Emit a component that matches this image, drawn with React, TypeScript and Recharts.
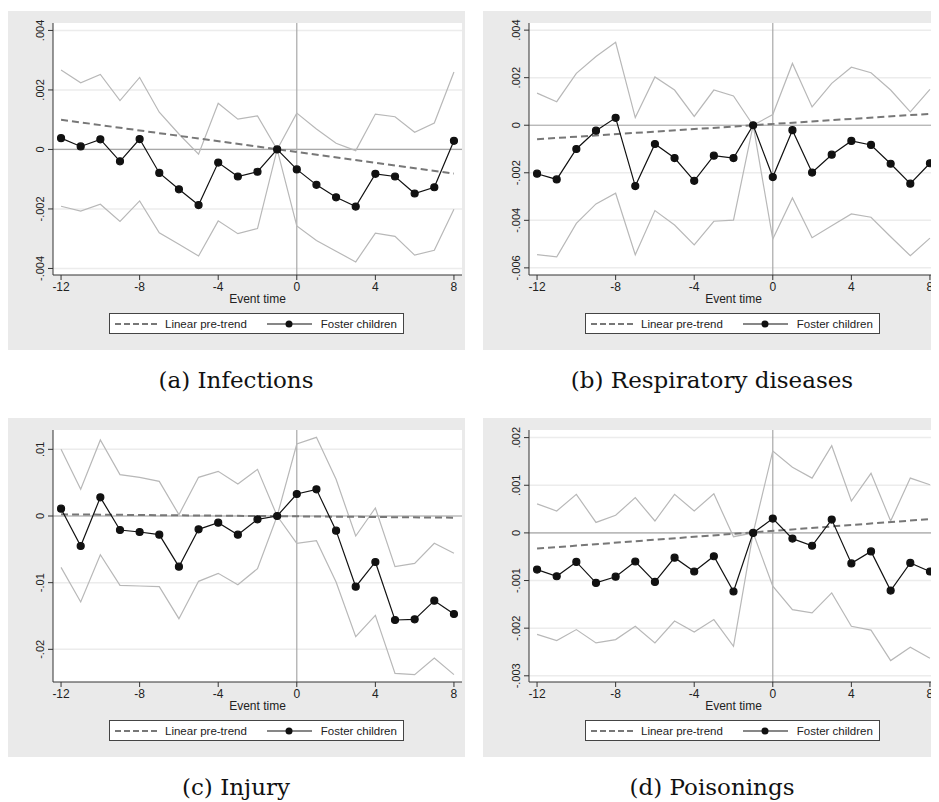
import React from "react";
import { ComposedChart, Line, XAxis, YAxis, CartesianGrid, ReferenceLine } from "recharts";

const eventTimes = [-12, -11, -10, -9, -8, -7, -6, -5, -4, -3, -2, -1, 0, 1, 2, 3, 4, 5, 6, 7, 8];
const xTicks = [-12, -8, -4, 0, 4, 8];

// (a) Infections
const infPoint = [0.00038, 0.0001, 0.00034, -0.0004, 0.00035, -0.00079, -0.00134, -0.00187, -0.00044, -0.00091, -0.00075, 0, -0.00067, -0.00119, -0.00161, -0.00192, -0.00082, -0.00091, -0.00148, -0.00127, 0.00029];
const infUpper = [0.00267, 0.00224, 0.00252, 0.00164, 0.00242, 0.00125, 0.00052, -0.00016, 0.00155, 0.00102, 0.00113, 0, 0.00122, 0.00069, 0.00021, -0.00004, 0.00119, 0.0011, 0.00058, 0.00089, 0.0026];
const infLower = [-0.00191, -0.00207, -0.00184, -0.00242, -0.00173, -0.0028, -0.00319, -0.00358, -0.0024, -0.00283, -0.00266, 0, -0.00257, -0.00306, -0.00342, -0.00378, -0.00281, -0.00292, -0.00355, -0.00339, -0.00201];
const infTrend = [0.001, -0.00081];

// (b) Respiratory diseases
const respPoint = [-0.00204, -0.00228, -0.001, -0.00023, 0.00031, -0.00256, -0.00079, -0.00138, -0.00234, -0.00128, -0.00138, 0, -0.00218, -0.00021, -0.00199, -0.00124, -0.00066, -0.00083, -0.00162, -0.00246, -0.0016];
const respUpper = [0.00135, 0.00099, 0.00218, 0.00289, 0.00349, 0.00032, 0.00203, 0.00148, 0.00037, 0.00148, 0.00123, 0, 0.00045, 0.0026, 0.00077, 0.00176, 0.00244, 0.00221, 0.00148, 0.00056, 0.00151];
const respLower = [-0.00544, -0.00554, -0.00413, -0.00331, -0.00286, -0.00545, -0.00359, -0.0042, -0.00503, -0.00404, -0.00399, 0, -0.00479, -0.00306, -0.00473, -0.00423, -0.00373, -0.00387, -0.00469, -0.00549, -0.00475];
const respTrend = [-0.00059, 0.00048];

// (c) Injury
const injPoint = [0.0011, -0.0045, 0.0028, -0.0021, -0.0024, -0.0028, -0.0076, -0.002, -0.001, -0.0028, -0.0005, 0, 0.0033, 0.004, -0.0022, -0.0106, -0.0069, -0.0156, -0.0155, -0.0127, -0.0147];
const injUpper = [0.01, 0.004, 0.0114, 0.0062, 0.0058, 0.0052, 0.0002, 0.0058, 0.0067, 0.0048, 0.007, 0, 0.0108, 0.0118, 0.0055, -0.003, 0.0012, -0.0076, -0.0071, -0.0041, -0.0056];
const injLower = [-0.0077, -0.0129, -0.0058, -0.0104, -0.0105, -0.0106, -0.0154, -0.0098, -0.0086, -0.0103, -0.0079, 0, -0.0041, -0.0037, -0.0099, -0.0181, -0.0149, -0.0236, -0.0238, -0.0213, -0.0238];
const injTrend = [0.00025, -0.00025];

// (d) Poisonings
const poiPoint = [-0.00077, -0.00091, -0.00061, -0.00105, -0.00092, -0.0006, -0.00103, -0.00052, -0.00081, -0.00049, -0.00123, 0, 0.0003, -0.00012, -0.00027, 0.00028, -0.00064, -0.00039, -0.00121, -0.00063, -0.00081];
const poiUpper = [0.00061, 0.00046, 0.00081, 0.00022, 0.00037, 0.00074, 0.00025, 0.00081, 0.00046, 0.00082, -0.00008, 0, 0.00172, 0.00138, 0.00115, 0.00183, 0.00067, 0.00125, 0.00025, 0.00115, 0.00101];
const poiLower = [-0.00213, -0.00226, -0.00203, -0.00231, -0.00224, -0.00196, -0.00231, -0.00185, -0.00208, -0.00182, -0.00238, 0, -0.00112, -0.00161, -0.00168, -0.00126, -0.00196, -0.00204, -0.00268, -0.0024, -0.00263];
const poiTrend = [-0.00033, 0.00029];

type PanelDef = {
  caption: string;
  point: number[];
  upper: number[];
  lower: number[];
  trend: number[];
  domain: [number, number];
  ticks: number[];
  left: number;
  top: number;
};

const fmt = (v: number) => {
  if (v === 0) return "0";
  const s = String(Number(v.toPrecision(3)));
  return s.replace(/^(-?)0\./, "$1.");
};

const panels: PanelDef[] = [
  { caption: "(a) Infections", point: infPoint, upper: infUpper, lower: infLower, trend: infTrend, domain: [-0.00422, 0.00425], ticks: [-0.004, -0.002, 0, 0.002, 0.004], left: 7, top: 11 },
  { caption: "(b) Respiratory diseases", point: respPoint, upper: respUpper, lower: respLower, trend: respTrend, domain: [-0.0063, 0.0043], ticks: [-0.006, -0.004, -0.002, 0, 0.002, 0.004], left: 483, top: 11 },
  { caption: "(c) Injury", point: injPoint, upper: injUpper, lower: injLower, trend: injTrend, domain: [-0.0249, 0.0129], ticks: [-0.02, -0.01, 0, 0.01], left: 7, top: 418 },
  { caption: "(d) Poisonings", point: poiPoint, upper: poiUpper, lower: poiLower, trend: poiTrend, domain: [-0.00313, 0.00216], ticks: [-0.003, -0.002, -0.001, 0, 0.001, 0.002], left: 483, top: 418 },
];

const font = "Arial, 'Liberation Sans', sans-serif";

const YTick = (props: any) => {
  const { x, y, payload } = props;
  return (
    <text x={x - 2} y={y} transform={`rotate(-90 ${x - 2} ${y})`} textAnchor="middle" fontSize={11} fontFamily={font} fill="#222">
      {fmt(payload.value)}
    </text>
  );
};

function Panel({ p }: { p: PanelDef }) {
  const slope = (p.trend[1] - p.trend[0]) / 20;
  const rows = eventTimes.map((t, i) => ({
    t,
    point: p.point[i],
    upper: p.upper[i],
    lower: p.lower[i],
    trend: i === 0 || i === eventTimes.length - 1 ? p.trend[0] + slope * (t + 12) : undefined,
  }));
  return (
    <div style={{ position: "absolute", left: p.left, top: p.top, width: 458, height: 339, background: "#eaeaea" }}>
      <ComposedChart width={458} height={290} data={rows} margin={{ top: 12, right: 3, bottom: 0, left: 0 }}>
        <CartesianGrid vertical={false} horizontalValues={p.ticks} stroke="#ececec" strokeWidth={1.5} fill="#ffffff" />
        <XAxis dataKey="t" type="number" domain={[-12.41, 8.41]} ticks={xTicks} interval={0} stroke="#333" tickSize={5}
          tick={{ fontSize: 12, fontFamily: font, fill: "#222" }} height={26} />
        <YAxis type="number" domain={p.domain} ticks={p.ticks} interval={0} width={46} stroke="#333" tickSize={5} tick={<YTick />} allowDataOverflow />
        <ReferenceLine y={0} stroke="#a8a8a8" strokeWidth={1.2} />
        <ReferenceLine x={0} stroke="#a8a8a8" strokeWidth={1.2} />
        <Line dataKey="upper" stroke="#b8b8b8" strokeWidth={1.2} dot={false} isAnimationActive={false} />
        <Line dataKey="lower" stroke="#b8b8b8" strokeWidth={1.2} dot={false} isAnimationActive={false} />
        <Line dataKey="trend" stroke="#777" strokeWidth={2} strokeDasharray="7 4" dot={false} connectNulls isAnimationActive={false} />
        <Line dataKey="point" stroke="#111" strokeWidth={1.2} dot={{ r: 3.5, fill: "#111", stroke: "#111" }} isAnimationActive={false} />
      </ComposedChart>
      <div style={{ position: "absolute", left: 46, width: 409, top: 281, textAlign: "center", fontFamily: font, fontSize: 12, lineHeight: "14px", color: "#222" }}>Event time</div>
      <div style={{ position: "absolute", left: 102, top: 302, width: 295, height: 21, boxSizing: "border-box", border: "1px solid #444", background: "#fff", display: "flex", alignItems: "center", fontFamily: font, fontSize: 11.5, color: "#222" }}>
        <svg width={50} height={10} style={{ marginLeft: 5 }}><line x1={0} y1={5} x2={45} y2={5} stroke="#777" strokeWidth={2} strokeDasharray="6 3" /></svg>
        <span>Linear pre-trend</span>
        <svg width={50} height={10} style={{ marginLeft: 20 }}><line x1={0} y1={5} x2={45} y2={5} stroke="#111" strokeWidth={1.2} /><circle cx={22} cy={5} r={3.5} fill="#111" /></svg>
        <span style={{ marginLeft: 4 }}>Foster children</span>
      </div>
      <div style={{ position: "absolute", left: 0, width: 458, top: 356, textAlign: "center", fontFamily: "'DejaVu Serif', serif", fontSize: 23, lineHeight: "26px", color: "#111" }}>{p.caption}</div>
    </div>
  );
}

export default function App() {
  return (
    <div style={{ position: "relative", width: 939, height: 802, margin: "-8px -8px 0 -8px", overflow: "hidden", background: "#fff" }}>
      {panels.map((p) => <Panel key={p.caption} p={p} />)}
    </div>
  );
}
